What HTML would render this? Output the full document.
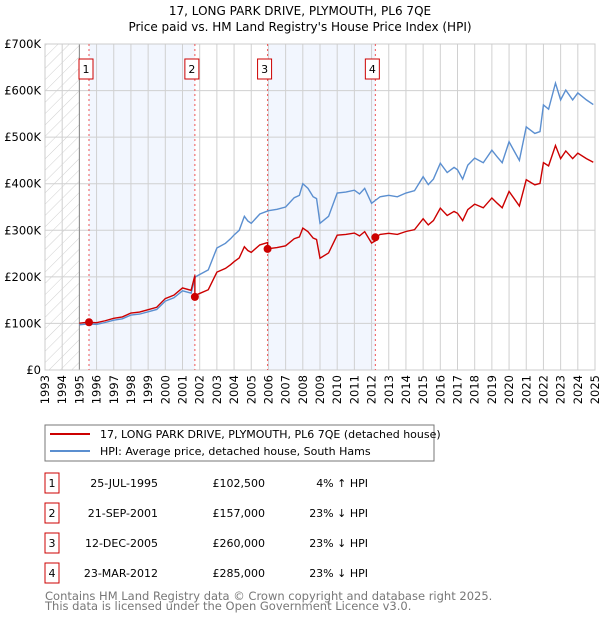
<!DOCTYPE html>
<html><head><meta charset="utf-8"><style>
body{margin:0;background:#fff;font-family:"Liberation Sans","DejaVu Sans",sans-serif;}
</style></head><body>
<svg width="600" height="620" viewBox="0 0 600 620" xmlns="http://www.w3.org/2000/svg" style="font-family:'DejaVu Sans','Liberation Sans',sans-serif">
<defs><pattern id="hatch" width="8" height="8" patternUnits="userSpaceOnUse" patternTransform="rotate(45)"><line x1="0" y1="0" x2="0" y2="8" stroke="#d0d0d0" stroke-width="1"/></pattern></defs>
<text x="300" y="15" text-anchor="middle" font-size="12">17, LONG PARK DRIVE, PLYMOUTH, PL6 7QE</text>
<text x="300" y="31" text-anchor="middle" font-size="12">Price paid vs. HM Land Registry's House Price Index (HPI)</text>
<g id="plot"></g>
<rect x="45" y="425" width="389" height="36" fill="#fff" stroke="#777"/>
<line x1="50" y1="434" x2="90" y2="434" stroke="#cc0000" stroke-width="2"/>
<text x="100" y="438" font-size="11">17, LONG PARK DRIVE, PLYMOUTH, PL6 7QE (detached house)</text>
<line x1="50" y1="451" x2="90" y2="451" stroke="#5b8fd0" stroke-width="2"/>
<text x="100" y="455" font-size="11">HPI: Average price, detached house, South Hams</text>
<g id="table" font-size="11"></g>
<text x="45" y="600" font-size="11.5" fill="#777">Contains HM Land Registry data © Crown copyright and database right 2025.</text>
<text x="45" y="610" font-size="11.5" fill="#777">This data is licensed under the Open Government Licence v3.0.</text>
</svg>
<script>
const hpiYears=[1995.0,1995.5,1996.0,1996.5,1997.0,1997.5,1998.0,1998.5,1999.0,1999.5,2000.0,2000.5,2001.0,2001.5,2001.75,2002.0,2002.5,2003.0,2003.5,2003.8,2004.0,2004.3,2004.6,2004.8,2005.0,2005.5,2006.0,2006.5,2007.0,2007.5,2007.8,2008.0,2008.3,2008.6,2008.8,2009.0,2009.5,2010.0,2010.5,2011.0,2011.3,2011.6,2012.0,2012.5,2013.0,2013.5,2014.0,2014.5,2015.0,2015.3,2015.6,2016.0,2016.4,2016.8,2017.0,2017.3,2017.6,2018.0,2018.5,2019.0,2019.3,2019.6,2020.0,2020.3,2020.6,2021.0,2021.5,2021.8,2022.0,2022.3,2022.7,2023.0,2023.3,2023.7,2024.0,2024.5,2024.9];
const hpiValues=[97,99,98,102,107,110,118,120,125,130,148,155,170,165,200,205,215,262,272,282,290,300,330,320,315,335,342,345,350,370,375,400,390,372,368,315,330,380,382,386,378,390,358,372,375,372,380,385,415,398,410,444,424,435,430,410,440,455,445,472,458,445,490,470,450,522,508,512,569,560,616,580,601,580,595,580,570];
const saleYears=[1995.56,2001.72,2005.95,2012.22];
const salePrices=[102.5,157,260,285];
const saleDates=["25-JUL-1995","21-SEP-2001","12-DEC-2005","23-MAR-2012"];
const salePriceLabels=["£102,500","£157,000","£260,000","£285,000"];
const saleHpiLabels=["4% ↑ HPI","23% ↓ HPI","23% ↓ HPI","23% ↓ HPI"];
const yTicks=[0,100,200,300,400,500,600,700];
const yTickLabels=["£0","£100K","£200K","£300K","£400K","£500K","£600K","£700K"];
const xTicks=[1993,1994,1995,1996,1997,1998,1999,2000,2001,2002,2003,2004,2005,2006,2007,2008,2009,2010,2011,2012,2013,2014,2015,2016,2017,2018,2019,2020,2021,2022,2023,2024,2025];

const NS="http://www.w3.org/2000/svg";
const L=45,R=595,T=44,B=370;
const xs=y=>L+(y-1993)/(2025-1993)*(R-L);
const ys=v=>B-v/700*(B-T);
const plot=document.getElementById('plot');
function mk(tag,attrs,parent){const e=document.createElementNS(NS,tag);for(const k in attrs)e.setAttribute(k,attrs[k]);(parent||plot).appendChild(e);return e;}
function hpiAt(t){for(let i=0;i<hpiYears.length-1;i++){if(t<=hpiYears[i+1]){const f=(t-hpiYears[i])/(hpiYears[i+1]-hpiYears[i]);return hpiValues[i]+f*(hpiValues[i+1]-hpiValues[i]);}}return hpiValues[hpiValues.length-1];}

let e;
e=mk('rect',{x:L,y:T,width:R-L,height:B-T,fill:'#fff'});


e=mk('rect',{x:L,y:T,width:xs(1995)-L,height:B-T,fill:'url(#hatch)'});


[[0,1],[2,3]].forEach(p=>{
 e=mk('rect',{x:xs(saleYears[p[0]]),y:T,width:xs(saleYears[p[1]])-xs(saleYears[p[0]]),height:B-T,fill:'#f2f6fe'});
 
 
});
xTicks.forEach(t=>{
 e=mk('line',{x1:xs(t),x2:xs(t),y1:T,y2:B,stroke:'#d0d0d0','stroke-width':1});
 
 
 e=mk('text',{x:0,y:0,transform:`translate(${xs(t)+4},${B+5}) rotate(-90)`,'text-anchor':'end','font-size':11.5});
 e.textContent=t;
 
 
});
yTicks.forEach((v,i)=>{
 e=mk('line',{x1:L,x2:R,y1:ys(v),y2:ys(v),stroke:'#d0d0d0','stroke-width':1});
 
 
 e=mk('text',{x:L-4,y:ys(v)+4,'text-anchor':'end','font-size':11.5});
 e.textContent=yTickLabels[i];
 
 
});
e=mk('line',{x1:xs(1995),x2:xs(1995),y1:T,y2:B,stroke:'#888'});


e=mk('rect',{x:L,y:T,width:R-L,height:B-T,fill:'none',stroke:'#ccc'});


saleYears.forEach((s,i)=>{
 e=mk('line',{x1:xs(s),x2:xs(s),y1:T,y2:B,stroke:'#e55','stroke-width':1,'stroke-dasharray':'2,3'});
 
 
 e=mk('rect',{x:xs(s)-10,y:59,width:14,height:20,fill:'#fff',stroke:'#cc0000'});
 
 
 e=mk('text',{x:xs(s)-3,y:73,'text-anchor':'middle','font-size':11});
 e.textContent=i+1;
 
 
});
e=mk('polyline',{points:hpiYears.map((t,i)=>xs(t)+','+ys(hpiValues[i])).join(' '),fill:'none',stroke:'#5b8fd0','stroke-width':1.4});


const pts=[];
const seg=t=>{let k=0;for(let i=0;i<saleYears.length;i++)if(t>=saleYears[i])k=i;return k;};
const times=hpiYears.concat(saleYears).sort((a,b)=>a-b);
times.forEach(t=>{
 const k=seg(t);
 if(saleYears.includes(t)&&k>0){const pk=k-1;pts.push([t,salePrices[pk]*hpiAt(t)/hpiAt(saleYears[pk])]);}
 pts.push([t,salePrices[k]*hpiAt(t)/hpiAt(saleYears[k])]);
});
e=mk('polyline',{points:pts.map(p=>xs(p[0])+','+ys(p[1])).join(' '),fill:'none',stroke:'#cc0000','stroke-width':1.4});


saleYears.forEach((s,i)=>{
 e=mk('circle',{cx:xs(s),cy:ys(salePrices[i]),r:4,fill:'#cc0000'});
 
 
});
const tb=document.getElementById('table');
saleYears.forEach((s,i)=>{
 const cy=483+i*30;
 e=mk('rect',{x:45,y:cy-10,width:14,height:20,fill:'#fff',stroke:'#cc0000'},tb);
 
 
 e=mk('text',{x:52,y:cy+4,'text-anchor':'middle'},tb);e.textContent=i+1;
 
 
 e=mk('text',{x:158,y:cy+4,'text-anchor':'end'},tb);e.textContent=saleDates[i];
 
 
 e=mk('text',{x:265,y:cy+4,'text-anchor':'end'},tb);e.textContent=salePriceLabels[i];
 
 
 e=mk('text',{x:368,y:cy+4,'text-anchor':'end'},tb);e.textContent=saleHpiLabels[i];
 
 
});
</script>
</body></html>
